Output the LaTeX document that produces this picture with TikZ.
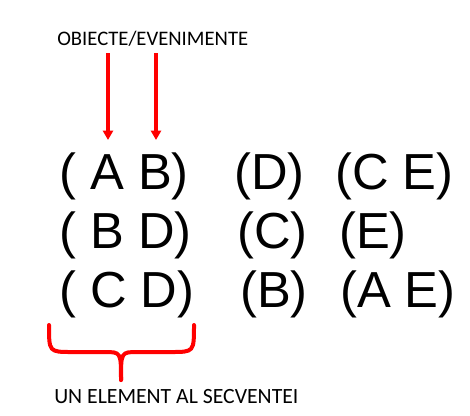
\documentclass[tikz,border=0pt]{standalone}
\usepackage{fontspec}
\setmainfont{Liberation Sans}
\newfontfamily\labelfont{Carlito}
\usetikzlibrary{arrows.meta}
\tikzset{
  seq/.style={anchor=base west,inner sep=0pt,font=\fontsize{38}{38}\selectfont},
  lbl/.style={anchor=base west,inner sep=0pt,font=\labelfont\fontsize{15.5}{15.5}\selectfont},
  redarrow/.style={red,line width=3pt,-{Triangle[length=7pt,width=7.5pt]}},
  redbrace/.style={red,line width=3pt,line cap=round}
}
\begin{document}
\begin{tikzpicture}[x=0.75pt,y=-0.75pt]
\useasboundingbox (0,0) rectangle (470,415);
% labels
\node[lbl] (obiecte) at (57,45) {OBIECTE/EVENIMENTE};
\node[lbl,font=\labelfont\fontsize{16.3}{16.3}\selectfont] (element) at (54,403) {UN ELEMENT AL SECVENTEI};
% sequence rows
\node[seq] (ab) at (59,189) {( A B)};
\node[seq] (d) at (234,189) {(D)};
\node[seq] (ce) at (335,189) {(C E)};
\node[seq] (bd) at (59,248) {( B D)};
\node[seq] (c) at (237,248) {(C)};
\node[seq] (e) at (339,248) {(E)};
\node[seq] (cd) at (59,307) {( C D)};
\node[seq] (b) at (240,307) {(B)};
\node[seq] (ae) at (340,307) {(A E)};
% arrows to A and B
\coordinate (fromA) at (108,53);
\coordinate (fromB) at (156,53);
\coordinate (toA) at (108,140);
\coordinate (toB) at (156,140);
\draw[redarrow] (fromA) -- (toA);
\draw[redarrow] (fromB) -- (toB);
% brace under first column
\coordinate (braceL) at (49,325);
\coordinate (braceR) at (194,325);
\coordinate (braceTip) at (121,380);
\draw[redbrace] (braceL) .. controls (49,352) .. (72,352) -- (104,352)
  .. controls (121,352) .. (braceTip);
\draw[redbrace] (braceR) .. controls (194,352) .. (171,352) -- (138,352)
  .. controls (121,352) .. (braceTip);
\end{tikzpicture}
\end{document}
